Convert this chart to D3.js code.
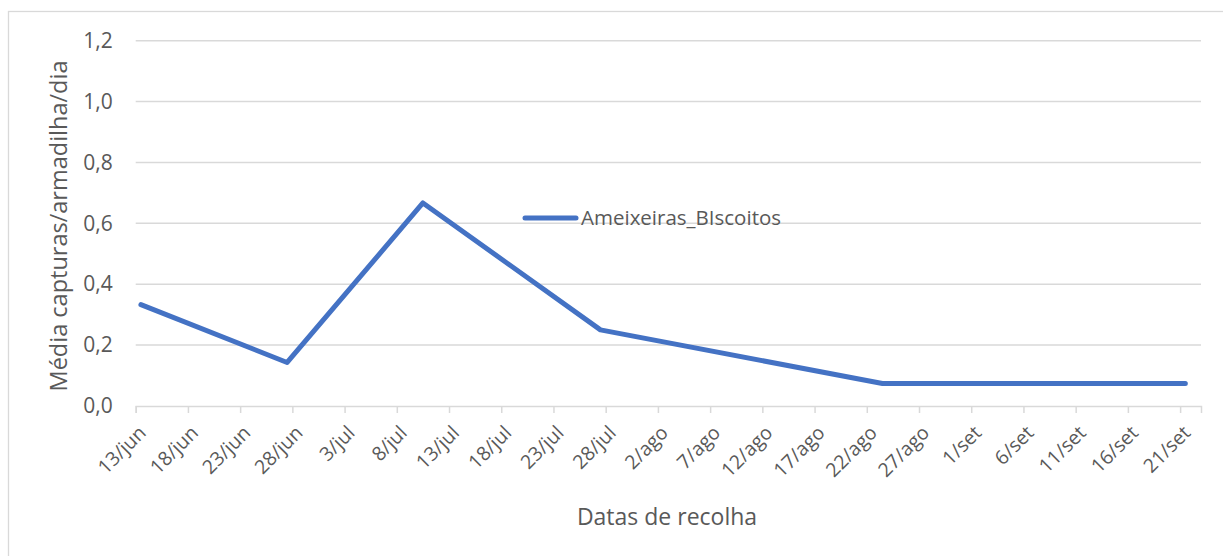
<!DOCTYPE html>
<html>
<head>
<meta charset="utf-8">
<script src="https://cdn.jsdelivr.net/npm/d3@7"></script>
<style>
  body { margin: 0; background: #fff; }
  text { font-family: "Open Sans", sans-serif; fill: #595959; }
</style>
</head>
<body>
<script>
// data
var dates = ["13/jun", "27/jun", "10/jul", "27/jul", "23/ago", "21/set"];
var values = [0.333, 0.143, 0.667, 0.25, 0.074, 0.074];
var seriesName = "Ameixeiras_BIscoitos";

var tickLabels = ["13/jun", "18/jun", "23/jun", "28/jun", "3/jul", "8/jul", "13/jul",
  "18/jul", "23/jul", "28/jul", "2/ago", "7/ago", "12/ago", "17/ago", "22/ago",
  "27/ago", "1/set", "6/set", "11/set", "16/set", "21/set"];
var yTicks = [0, 0.2, 0.4, 0.6, 0.8, 1.0, 1.2];
var axisEnd = "23/set";

var months = {jun: 5, jul: 6, ago: 7, set: 8};
function parseDate(s) {
  var p = s.split("/");
  return new Date(Date.UTC(2019, months[p[1]], +p[0]));
}

var W = 1223, H = 556;
var margin = {top: 40.7, right: 22, bottom: 150, left: 135.7};
var width = W - margin.left - margin.right;
var height = 406 - margin.top;

var svg = d3.select("body").append("svg")
    .attr("width", W)
    .attr("height", H);

// chart border
svg.append("rect")
    .attr("x", 8.5).attr("y", 11.5)
    .attr("width", W).attr("height", H)
    .attr("fill", "none")
    .attr("stroke", "#d9d9d9")
    .attr("stroke-width", 1.3);

var g = svg.append("g")
    .attr("transform", "translate(" + margin.left + "," + margin.top + ")");

var xScale = d3.scaleUtc()
    .domain([parseDate(tickLabels[0]), parseDate(axisEnd)])
    .range([0, width]);
var yScale = d3.scaleLinear().domain([0, 1.2]).range([height, 0]);

// gridlines
g.selectAll("line.grid")
    .data(yTicks.slice(1))
    .enter().append("line")
    .attr("class", "grid")
    .attr("x1", 0).attr("x2", width)
    .attr("y1", function(d) { return yScale(d); })
    .attr("y2", function(d) { return yScale(d); })
    .attr("stroke", "#d9d9d9")
    .attr("stroke-width", 1.5);

// y axis labels
var yAxis = d3.axisLeft(yScale)
    .tickValues(yTicks)
    .tickSize(0)
    .tickPadding(23)
    .tickFormat(function(d) { return d3.format(".1f")(d).replace(".", ","); });
var yg = g.append("g").call(yAxis);
yg.select(".domain").remove();
yg.selectAll("text").style("font-size", "21px").attr("fill", "#595959");

// x axis
var xAxis = d3.axisBottom(xScale)
    .tickValues(tickLabels.map(parseDate))
    .tickSize(7)
    .tickFormat(function(d, i) { return tickLabels[i]; });
var xg = g.append("g")
    .attr("transform", "translate(0," + height + ")")
    .call(xAxis);
xg.select(".domain").attr("stroke", "#d9d9d9").attr("stroke-width", 1.5);
xg.selectAll(".tick line").attr("stroke", "#d9d9d9").attr("stroke-width", 1.5);
xg.selectAll(".tick text")
    .attr("fill", "#595959")
    .style("font-size", "19.5px")
    .style("text-anchor", "end")
    .attr("x", 0).attr("y", 0).attr("dy", 0)
    .attr("transform", "translate(11,28) rotate(-45)");

// line: each point sits in the middle of its day
var line = d3.line()
    .x(function(d) { return xScale(d3.utcHour.offset(d.date, 12)); })
    .y(function(d) { return yScale(d.value); });

var data = dates.map(function(d, i) { return {date: parseDate(d), value: values[i]}; });

g.append("path")
    .datum(data)
    .attr("d", line)
    .attr("fill", "none")
    .attr("stroke", "#4472c4")
    .attr("stroke-width", 5)
    .attr("stroke-linejoin", "round")
    .attr("stroke-linecap", "round");

// legend
svg.append("line")
    .attr("x1", 525).attr("x2", 576)
    .attr("y1", 218).attr("y2", 218)
    .attr("stroke", "#4472c4")
    .attr("stroke-width", 5)
    .attr("stroke-linecap", "round");
svg.append("text")
    .attr("x", 581).attr("y", 225)
    .style("font-size", "20.5px")
    .text(seriesName);

// axis titles
svg.append("text")
    .attr("x", 667).attr("y", 525)
    .attr("text-anchor", "middle")
    .style("font-size", "23px")
    .text("Datas de recolha");

svg.append("text")
    .attr("transform", "translate(67,226) rotate(-90)")
    .attr("text-anchor", "middle")
    .style("font-size", "23.5px")
    .text("Média capturas/armadilha/dia");
</script>
</body>
</html>
